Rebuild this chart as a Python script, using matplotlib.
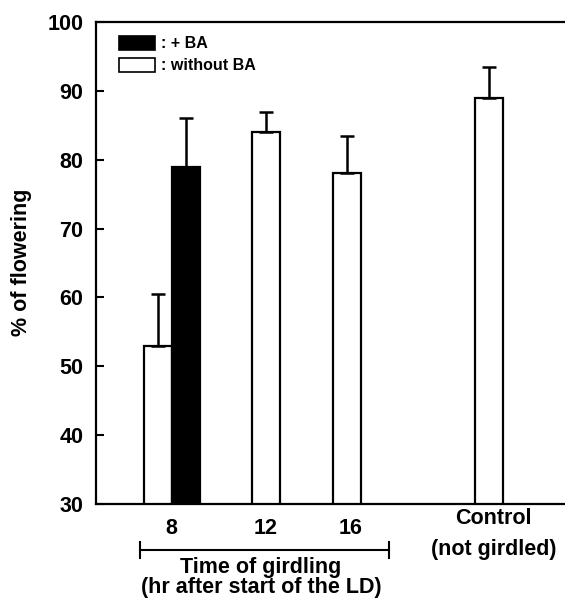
import matplotlib
matplotlib.use('Agg')
import matplotlib.pyplot as plt
from matplotlib.patches import Patch

plt.rcParams['font.family'] = ['Liberation Sans', 'DejaVu Sans']
plt.rcParams['font.weight'] = 'bold'

# bar data
bar_pos = [2.2, 3.2, 6.07, 8.98, 14.05]
bar_vals = [53, 79, 84, 78, 89]
bar_errs = [7.5, 7, 3, 5.5, 4.5]
bar_colors = ['white', 'black', 'white', 'white', 'white']

tick_pos = [2.7, 6.07, 9.1]
tick_labels = ['8', '12', '16']

fs = 15.5

fig = plt.figure(figsize=(5.65, 5.99), dpi=100)
ax = fig.add_axes([96/565, 95/599, 1 - 96/565, 482/599])

ax.bar(bar_pos, bar_vals, width=1.0, color=bar_colors, edgecolor='black', linewidth=1.6, zorder=2)
ax.errorbar(bar_pos, bar_vals, yerr=[[0]*len(bar_errs), bar_errs], fmt='none',
            ecolor='black', elinewidth=1.8, capsize=5, capthick=1.8, zorder=3)

ax.set_xlim(0, 16.75)
ax.set_ylim(30, 100)
ax.set_yticks(range(30, 101, 10))
ax.tick_params(axis='y', direction='in', length=6, width=1.5, pad=9, labelsize=fs)
ax.set_xticks(tick_pos)
ax.set_xticklabels(tick_labels)
ax.tick_params(axis='x', length=0, pad=10, labelsize=fs)
for s in ['left', 'bottom', 'top']:
    ax.spines[s].set_linewidth(1.6)
ax.spines['right'].set_visible(False)

fig.text(22/565, 1 - 262/599, '% of flowering', rotation=90, ha='center', va='center',
         fontsize=fs, fontweight='bold')

tr = ax.get_xaxis_transform()

# control label
ax.text(14.2, -15/482, 'Control', transform=tr, ha='center', va='center', fontsize=fs)
ax.text(14.2, -45/482, '(not girdled)', transform=tr, ha='center', va='center', fontsize=fs)

# bracket under girdling times
bx0, bx1 = 1.57, 10.46
by = -46/482
ax.plot([bx0, bx1], [by, by], color='black', lw=1.5, transform=tr, clip_on=False)
for bx in (bx0, bx1):
    ax.plot([bx, bx], [by - 8/482, by + 8/482], color='black', lw=1.5, transform=tr, clip_on=False)
xc = (bx0 + bx1) / 2 - 0.12
ax.text(xc, -63/482, 'Time of girdling', transform=tr, ha='center', va='center', fontsize=fs)
ax.text(xc, -84/482, '(hr after start of the LD)', transform=tr, ha='center', va='center', fontsize=fs)

handles = [Patch(facecolor='black', edgecolor='black', linewidth=1.2),
           Patch(facecolor='white', edgecolor='black', linewidth=1.2)]
ax.legend(handles, [': + BA', ': without BA'], loc='upper left', bbox_to_anchor=(0.035, 0.985),
          frameon=False, fontsize=11.5, handlelength=2.25, handleheight=1.0,
          handletextpad=0.4, labelspacing=0.4, borderaxespad=0)

fig.savefig('out.png', dpi=100)
